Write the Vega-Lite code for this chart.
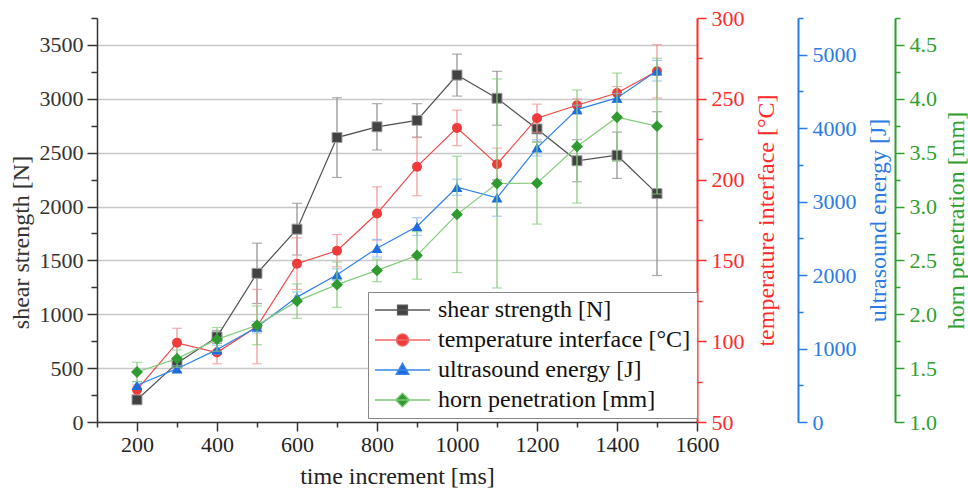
{
  "$schema": "https://vega.github.io/schema/vega-lite/v6.json",
  "width": 600,
  "height": 404,
  "autosize": "none",
  "padding": {"left": 97, "top": 18, "right": 271, "bottom": 68},
  "background": "white",
  "config": {
    "view": {"stroke": null},
    "axis": {
      "labelFont": "Liberation Serif", "labelFontSize": 22, "titleFont": "Liberation Serif", "titleFontSize": 24,
      "titleFontWeight": "normal", "labelFlush": false, "labelOverlap": false, "domainWidth": 1.5, "tickWidth": 1.5
    }
  },
  "datasets": {
    "rows": [
      {"t": 200, "s": "shear", "v": 206, "e": 30},
      {"t": 300, "s": "shear", "v": 546, "e": 40},
      {"t": 400, "s": "shear", "v": 790, "e": 60},
      {"t": 500, "s": "shear", "v": 1380, "e": 280},
      {"t": 600, "s": "shear", "v": 1790, "e": 240},
      {"t": 700, "s": "shear", "v": 2640, "e": 370},
      {"t": 800, "s": "shear", "v": 2740, "e": 215},
      {"t": 900, "s": "shear", "v": 2800, "e": 155},
      {"t": 1000, "s": "shear", "v": 3220, "e": 195},
      {"t": 1100, "s": "shear", "v": 3005, "e": 250},
      {"t": 1200, "s": "shear", "v": 2720, "e": 120},
      {"t": 1300, "s": "shear", "v": 2425, "e": 195},
      {"t": 1400, "s": "shear", "v": 2476, "e": 215},
      {"t": 1500, "s": "shear", "v": 2120, "e": 760},
      {"t": 200, "s": "temp", "v": 70, "e": 3},
      {"t": 300, "s": "temp", "v": 99, "e": 9},
      {"t": 400, "s": "temp", "v": 93, "e": 7},
      {"t": 500, "s": "temp", "v": 109, "e": 23},
      {"t": 600, "s": "temp", "v": 148, "e": 16},
      {"t": 700, "s": "temp", "v": 156, "e": 10},
      {"t": 800, "s": "temp", "v": 179, "e": 16.5},
      {"t": 900, "s": "temp", "v": 208, "e": 18},
      {"t": 1000, "s": "temp", "v": 232, "e": 11},
      {"t": 1100, "s": "temp", "v": 209.5, "e": 10},
      {"t": 1200, "s": "temp", "v": 238, "e": 8.7},
      {"t": 1300, "s": "temp", "v": 246, "e": 4},
      {"t": 1400, "s": "temp", "v": 253.6, "e": 4},
      {"t": 1500, "s": "temp", "v": 267, "e": 16.5},
      {"t": 200, "s": "energy", "v": 500, "e": 50},
      {"t": 300, "s": "energy", "v": 726, "e": 40},
      {"t": 400, "s": "energy", "v": 985, "e": 60},
      {"t": 500, "s": "energy", "v": 1292, "e": 80},
      {"t": 600, "s": "energy", "v": 1700, "e": 70},
      {"t": 700, "s": "energy", "v": 2005, "e": 80},
      {"t": 800, "s": "energy", "v": 2366, "e": 120},
      {"t": 900, "s": "energy", "v": 2661, "e": 120},
      {"t": 1000, "s": "energy", "v": 3196, "e": 110},
      {"t": 1100, "s": "energy", "v": 3052, "e": 250},
      {"t": 1200, "s": "energy", "v": 3732, "e": 110},
      {"t": 1300, "s": "energy", "v": 4253, "e": 60},
      {"t": 1400, "s": "energy", "v": 4412, "e": 60},
      {"t": 1500, "s": "energy", "v": 4783, "e": 140},
      {"t": 200, "s": "horn", "v": 1.464, "e": 0.09},
      {"t": 300, "s": "horn", "v": 1.588, "e": 0.08},
      {"t": 400, "s": "horn", "v": 1.767, "e": 0.11},
      {"t": 500, "s": "horn", "v": 1.897, "e": 0.18},
      {"t": 600, "s": "horn", "v": 2.122, "e": 0.16},
      {"t": 700, "s": "horn", "v": 2.275, "e": 0.21},
      {"t": 800, "s": "horn", "v": 2.407, "e": 0.105},
      {"t": 900, "s": "horn", "v": 2.546, "e": 0.22},
      {"t": 1000, "s": "horn", "v": 2.927, "e": 0.54},
      {"t": 1100, "s": "horn", "v": 3.214, "e": 0.97},
      {"t": 1200, "s": "horn", "v": 3.217, "e": 0.38},
      {"t": 1300, "s": "horn", "v": 3.557, "e": 0.525},
      {"t": 1400, "s": "horn", "v": 3.829, "e": 0.41},
      {"t": 1500, "s": "horn", "v": 3.746, "e": 0.63}
    ]
  },
  "data": {"name": "rows"},
  "encoding": {
    "x": {
      "field": "t", "type": "quantitative",
      "scale": {"domain": [100, 1600], "nice": false, "zero": false},
      "axis": {
        "values": [100, 200, 300, 400, 500, 600, 700, 800, 900, 1000, 1100, 1200, 1300, 1400, 1500, 1600],
        "format": "d",
        "labelExpr": "datum.value % 200 === 0 ? datum.label : ''",
        "tickSize": {"condition": {"test": "datum.value % 200 === 0", "value": 9}, "value": 5},
        "grid": false, "domainColor": "#333333", "tickColor": "#333333", "labelColor": "#222222",
        "labelPadding": 3, "title": "time increment [ms]", "titleColor": "#222222", "titlePadding": 9
      }
    }
  },
  "resolve": {"scale": {"y": "independent"}, "axis": {"y": "independent"}},
  "layer": [
    {
      "transform": [{"filter": "datum.s === 'shear'"}],
      "encoding": {
        "y": {
          "field": "v", "type": "quantitative",
          "scale": {"domain": [0, 3750], "nice": false, "zero": false},
          "axis": {
            "orient": "left",
            "values": [0, 250, 500, 750, 1000, 1250, 1500, 1750, 2000, 2250, 2500, 2750, 3000, 3250, 3500, 3750],
            "format": "d",
            "labelExpr": "datum.value % 500 === 0 ? datum.label : ''",
            "tickSize": {"condition": {"test": "datum.value % 500 === 0", "value": 10}, "value": 6},
            "grid": true, "gridColor": "#c8c8c8", "gridWidth": 1.5,
            "gridOpacity": {"condition": {"test": "datum.value % 500 === 0 && datum.value > 0", "value": 1}, "value": 0},
            "domainColor": "#333333", "tickColor": "#333333", "labelColor": "#333333", "labelPadding": 4,
            "title": "shear strength [N]", "titleColor": "#333333", "titlePadding": 6, "titleY": 224
          }
        }
      },
      "layer": [
        {"mark": {"type": "errorbar", "ticks": {"size": 10, "thickness": 1.2, "color": "#8c8c8c"}, "rule": {"color": "#8c8c8c", "strokeWidth": 1.2}}, "encoding": {"yError": {"field": "e"}}},
        {"mark": {"type": "line", "color": "#505050", "strokeWidth": 1.2}},
        {"mark": {"type": "point", "shape": "square", "filled": true, "size": 100, "fill": "#424242", "stroke": "#a0a0a0", "strokeWidth": 1, "opacity": 1}}
      ]
    },
    {
      "transform": [{"filter": "datum.s === 'temp'"}],
      "encoding": {
        "y": {
          "field": "v", "type": "quantitative",
          "scale": {"domain": [50, 300], "nice": false, "zero": false},
          "axis": {
            "orient": "right", "offset": 0,
            "values": [50, 75, 100, 125, 150, 175, 200, 225, 250, 275, 300],
            "format": "d",
            "labelExpr": "datum.value % 50 === 0 ? datum.label : ''",
            "tickSize": {"condition": {"test": "datum.value % 50 === 0", "value": 9}, "value": 5},
            "grid": false, "domainColor": "#ff2b2b", "tickColor": "#ff2b2b", "labelColor": "#ff2b2b", "domainWidth": 2,
            "labelPadding": 5, "title": "temperature interface [°C]", "titleColor": "#ff2b2b", "titleAngle": 270, "titleBaseline": "top", "titlePadding": 10
          }
        }
      },
      "layer": [
        {"mark": {"type": "errorbar", "ticks": {"size": 10, "thickness": 1.2, "color": "#f49090"}, "rule": {"color": "#f49090", "strokeWidth": 1.2}}, "encoding": {"yError": {"field": "e"}}},
        {"mark": {"type": "line", "color": "#f04848", "strokeWidth": 1.2}},
        {"mark": {"type": "point", "shape": "circle", "filled": true, "size": 100, "color": "#ef3b3b", "opacity": 1}}
      ]
    },
    {
      "transform": [{"filter": "datum.s === 'energy'"}],
      "encoding": {
        "y": {
          "field": "v", "type": "quantitative",
          "scale": {"domain": [0, 5500], "nice": false, "zero": false},
          "axis": {
            "orient": "right", "offset": 101,
            "values": [0, 500, 1000, 1500, 2000, 2500, 3000, 3500, 4000, 4500, 5000, 5500],
            "format": "d",
            "labelExpr": "datum.value % 1000 === 0 ? datum.label : ''",
            "tickSize": {"condition": {"test": "datum.value % 1000 === 0", "value": 9}, "value": 5},
            "grid": false, "domainColor": "#2b7be4", "tickColor": "#2b7be4", "labelColor": "#2b7be4", "domainWidth": 2,
            "labelPadding": 5, "title": "ultrasound energy [J]", "titleColor": "#2b7be4", "titleAngle": 270, "titleBaseline": "top", "titlePadding": 10
          }
        }
      },
      "layer": [
        {"mark": {"type": "errorbar", "ticks": {"size": 10, "thickness": 1.2, "color": "#8ab8f0"}, "rule": {"color": "#8ab8f0", "strokeWidth": 1.2}}, "encoding": {"yError": {"field": "e"}}},
        {"mark": {"type": "line", "color": "#3282e6", "strokeWidth": 1.2}},
        {"mark": {"type": "point", "shape": "triangle-up", "filled": true, "size": 120, "color": "#1c6ee0", "opacity": 1}}
      ]
    },
    {
      "transform": [{"filter": "datum.s === 'horn'"}],
      "encoding": {
        "y": {
          "field": "v", "type": "quantitative",
          "scale": {"domain": [1, 4.75], "nice": false, "zero": false},
          "axis": {
            "orient": "right", "offset": 198,
            "values": [1, 1.25, 1.5, 1.75, 2, 2.25, 2.5, 2.75, 3, 3.25, 3.5, 3.75, 4, 4.25, 4.5, 4.75],
            "format": ".1f",
            "labelExpr": "abs(datum.value * 2 - round(datum.value * 2)) < 0.001 ? datum.label : ''",
            "tickSize": {"condition": {"test": "abs(datum.value * 2 - round(datum.value * 2)) < 0.001", "value": 9}, "value": 5},
            "grid": false, "domainColor": "#2ea02e", "tickColor": "#2ea02e", "labelColor": "#2ea02e", "domainWidth": 2,
            "labelPadding": 5, "title": "horn penetration [mm]", "titleColor": "#2ea02e", "titleAngle": 270, "titleBaseline": "top", "titlePadding": 8
          }
        }
      },
      "layer": [
        {"mark": {"type": "errorbar", "ticks": {"size": 10, "thickness": 1.2, "color": "#84cc7c"}, "rule": {"color": "#84cc7c", "strokeWidth": 1.2}}, "encoding": {"yError": {"field": "e"}}},
        {"mark": {"type": "line", "color": "#84cc7c", "strokeWidth": 1.2}},
        {"mark": {"type": "point", "shape": "diamond", "filled": true, "size": 140, "color": "#2f9a2f", "opacity": 1}}
      ]
    },
    {
      "data": {"values": [
        {"series": "shear strength [N]"},
        {"series": "temperature interface [°C]"},
        {"series": "ultrasound energy [J]"},
        {"series": "horn penetration [mm]"}
      ]},
      "transform": [{"filter": "false"}],
      "mark": {"type": "point", "filled": true, "opacity": 1, "strokeWidth": 1.3},
      "encoding": {
        "fill": {
          "field": "series", "type": "nominal",
          "scale": {"domain": ["shear strength [N]", "temperature interface [°C]", "ultrasound energy [J]", "horn penetration [mm]"],
                    "range": ["#424242", "#ef3b3b", "#1c6ee0", "#2f9a2f"]},
          "legend": {
            "title": null, "orient": "none", "legendX": 271, "legendY": 274,
            "symbolSize": 3025, "symbolStrokeWidth": 1.3, "clipHeight": 24, "labelLimit": 400,
            "labelFont": "Liberation Serif", "labelFontSize": 24, "labelColor": "#111111", "labelOffset": 7,
            "strokeColor": "#888888", "fillColor": "white", "padding": 6, "rowPadding": 6
          }
        },
        "stroke": {
          "field": "series", "type": "nominal",
          "scale": {"domain": ["shear strength [N]", "temperature interface [°C]", "ultrasound energy [J]", "horn penetration [mm]"],
                    "range": ["#5a5a5a", "#f06a6a", "#3a86e8", "#7cc674"]},
          "legend": {
            "title": null, "orient": "none", "legendX": 271, "legendY": 274,
            "symbolSize": 3025, "symbolStrokeWidth": 1.3, "clipHeight": 24, "labelLimit": 400,
            "labelFont": "Liberation Serif", "labelFontSize": 24, "labelColor": "#111111", "labelOffset": 7,
            "strokeColor": "#888888", "fillColor": "white", "padding": 6, "rowPadding": 6
          }
        },
        "shape": {
          "field": "series", "type": "nominal",
          "scale": {"domain": ["shear strength [N]", "temperature interface [°C]", "ultrasound energy [J]", "horn penetration [mm]"],
                    "range": [
                      "M-1,0H1M-0.18,-0.18H0.18V0.18H-0.18Z",
                      "M-1,0H1M0.22,0A0.22,0.22,0,1,1,-0.22,0A0.22,0.22,0,1,1,0.22,0Z",
                      "M-1,0H1M0,-0.25L0.23,0.16H-0.23Z",
                      "M-1,0H1M0,-0.25L0.25,0L0,0.25L-0.25,0Z"
                    ]},
          "legend": {
            "title": null, "orient": "none", "legendX": 271, "legendY": 274,
            "symbolSize": 3025, "symbolStrokeWidth": 1.3, "clipHeight": 24, "labelLimit": 400,
            "labelFont": "Liberation Serif", "labelFontSize": 24, "labelColor": "#111111", "labelOffset": 7,
            "strokeColor": "#888888", "fillColor": "white", "padding": 6, "rowPadding": 6
          }
        }
      }
    }
  ]
}
